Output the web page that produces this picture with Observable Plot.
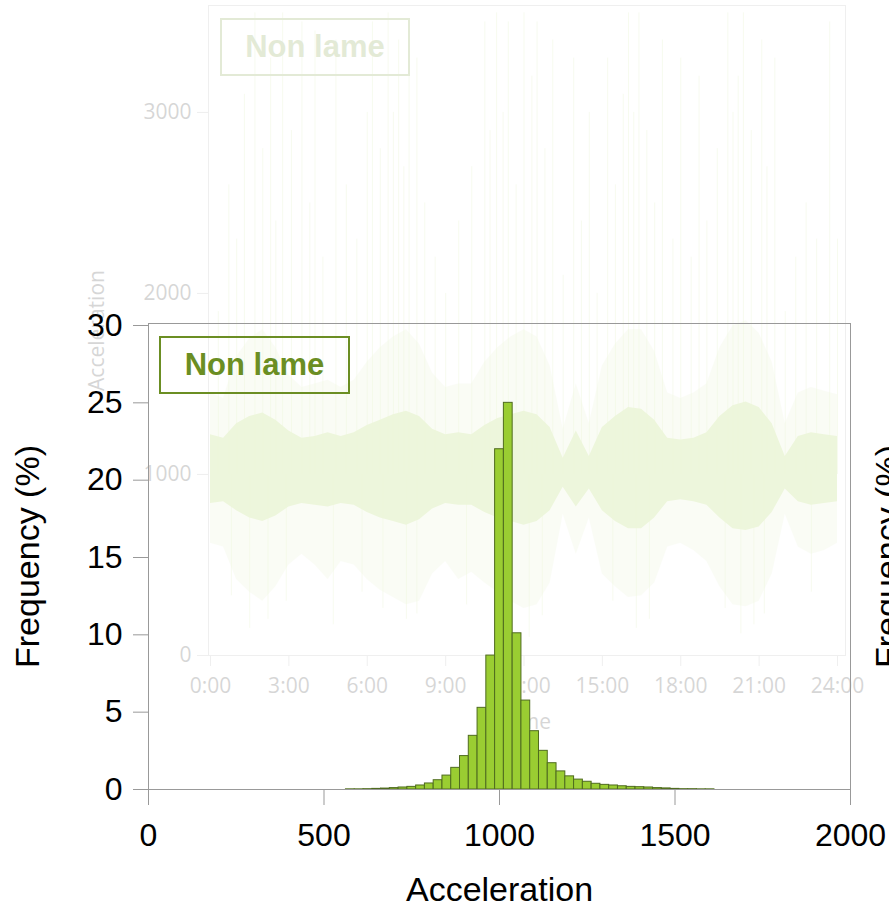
<!DOCTYPE html>
<html><head><meta charset="utf-8">
<script src="https://cdn.jsdelivr.net/npm/d3@7"></script>
<script src="https://cdn.jsdelivr.net/npm/@observablehq/plot@0.6"></script>
<style>
html,body{margin:0;padding:0;overflow:hidden;background:#fff;}
#stage{position:relative;width:889px;height:907px;overflow:hidden;background:#fff;}
#back{position:absolute;left:0;top:0;width:889px;height:907px;opacity:0.18;}
#front{position:absolute;left:0;top:0;width:889px;height:907px;}
#back svg,#front svg{position:absolute;left:0;top:0;}
.box{position:absolute;box-sizing:border-box;border:2px solid #6b8e23;color:#6b8e23;font:bold 31px "Liberation Sans",Arial,sans-serif;display:flex;align-items:center;justify-content:center;}
</style></head><body>
<div id="stage"><div id="back"></div><div id="front"></div></div>
<script>
// ---- histogram (front) ----
const binCenters = [575,600,625,650,675,700,725,750,775,800,825,850,875,900,925,950,975,1000,1025,1050,1075,1100,1125,1150,1175,1200,1225,1250,1275,1300,1325,1350,1375,1400,1425,1450,1475,1500,1525,1550,1575,1600];
const binPct = [0.01,0.01,0.02,0.04,0.06,0.09,0.13,0.17,0.26,0.39,0.6,0.9,1.4,2.16,3.47,5.28,8.66,22.0,25.0,10.1,5.75,3.77,2.5,1.7,1.17,0.85,0.64,0.5,0.37,0.3,0.26,0.21,0.17,0.15,0.13,0.09,0.07,0.04,0.02,0.02,0.01,0.01];
const binWidth = 25;
const freqTicks = [0,5,10,15,20,25,30];
const accTicks = [0,500,1000,1500,2000];

// ---- time series (background), envelopes every half hour ----
const hours = [0,0.5,1,1.5,2,2.5,3,3.5,4,4.5,5,5.5,6,6.5,7,7.5,8,8.5,9,9.5,10,10.5,11,11.5,12,12.5,13,13.5,14,14.5,15,15.5,16,16.5,17,17.5,18,18.5,19,19.5,20,20.5,21,21.5,22,22.5,23,23.5,24];
const coreLo = [840,850,800,760,740,770,820,840,830,820,840,830,790,760,740,720,750,810,840,830,830,790,760,740,720,740,800,930,820,920,800,740,700,700,760,850,860,850,830,760,700,690,710,790,920,850,830,840,850];
const coreHi = [1220,1200,1280,1320,1340,1300,1240,1200,1210,1230,1210,1230,1270,1300,1330,1350,1320,1250,1220,1230,1220,1270,1310,1330,1350,1330,1260,1090,1240,1100,1260,1320,1370,1360,1300,1200,1190,1200,1230,1320,1380,1400,1370,1280,1100,1210,1230,1220,1210];
const outLo = [620,600,420,350,300,380,500,560,500,420,520,500,420,360,320,280,300,450,520,420,460,400,350,300,260,280,400,780,560,760,450,380,320,330,400,600,620,580,520,380,280,270,300,450,780,600,560,580,620];
const outHi = [1450,1420,1650,1750,1800,1700,1550,1480,1500,1520,1480,1520,1620,1700,1760,1800,1720,1560,1480,1500,1500,1620,1700,1760,1800,1760,1600,1250,1500,1280,1600,1720,1800,1800,1680,1450,1420,1450,1500,1700,1820,1850,1780,1620,1280,1450,1480,1460,1440];
const spikeUpT = [0.3,0.7,1.0,1.3,1.7,2.0,2.3,2.5,2.76,3.1,3.5,3.8,4.0,4.3,4.8,5.2,5.6,6.0,6.2,6.5,6.8,7.0,7.2,7.4,7.6,7.9,8.2,8.6,9.0,9.5,10.0,10.5,10.7,10.95,11.2,11.4,11.7,12.0,12.3,12.5,12.8,13.1,13.5,13.9,14.2,14.5,14.8,15.2,15.5,15.8,16.0,16.2,16.4,16.7,17.0,17.3,17.7,18.0,18.4,18.7,19.0,19.4,19.8,20.0,20.2,20.4,20.7,21.1,21.3,21.6,22.0,22.4,22.8,23.2,23.7,24.0];
const spikeUpV = [1900,2600,2300,3100,3550,2800,3300,2400,3550,2900,3500,2500,3450,2200,3400,2600,2300,3000,3500,2800,3550,3000,3400,2700,3500,3300,2500,2200,2000,2400,2700,3500,2900,3550,3000,3500,2600,3550,3200,3500,2800,3400,2100,3300,2400,3000,2000,3300,2600,3100,3550,3000,3550,2900,2500,3400,2300,3300,2200,3200,2400,2800,3550,3000,3200,3550,2900,3400,2700,3300,1900,2200,2500,2300,3500,2300];
const spikeDnT = [0.8,1.5,2.2,2.9,4.7,5.8,6.6,7.5,7.9,9.8,11.3,12.2,12.7,15.4,16.3,16.8,19.7,20.3,20.8,21.2,23.0];
const spikeDnV = [330,150,200,300,170,350,260,200,230,280,250,100,220,300,150,200,260,120,170,230,350];
const timeTicks = [0,3,6,9,12,15,18,21,24];
const accelTicks = [0,1000,2000,3000];
const GREEN = "#9acd32";

const band = hours.map((t,i)=>({t, coreLo:coreLo[i], coreHi:coreHi[i], outLo:outLo[i], outHi:outHi[i]}));
const ups = spikeUpT.map((t,i)=>({t, v:spikeUpV[i]}));
const downs = spikeDnT.map((t,i)=>({t, v:spikeDnV[i]}));
const hist = binCenters.map((c,i)=>({x1:c-binWidth/2, x2:c+binWidth/2, pct:binPct[i]}));
const plain = d => String(d);

const back = Plot.plot({
  width:889, height:907,
  marginLeft:208, marginRight:44, marginTop:5, marginBottom:252,
  x:{domain:[-0.077,24.306]}, y:{domain:[0,3591]},
  style:{background:"transparent", fontFamily:"'Open Sans', sans-serif", overflow:"visible"},
  marks:[
    Plot.areaY(band,{x:"t", y1:"outLo", y2:"outHi", fill:GREEN, fillOpacity:0.25}),
    Plot.ruleX(ups,{x:"t", y1:1000, y2:"v", stroke:GREEN, strokeOpacity:0.4}),
    Plot.ruleX(downs,{x:"t", y1:1000, y2:"v", stroke:GREEN, strokeOpacity:0.4}),
    Plot.areaY(band,{x:"t", y1:"coreLo", y2:"coreHi", fill:GREEN, fillOpacity:0.9}),
    Plot.frame({stroke:"#aaa"}),
    Plot.axisX({ticks:timeTicks, tickFormat:d=>d+":00", tickSize:11, tickPadding:12, fontSize:21, stroke:"#aaa", fill:"#222", label:null}),
    Plot.axisY({ticks:accelTicks, tickFormat:plain, tickSize:11, tickPadding:6, fontSize:21, stroke:"#aaa", fill:"#222", label:null}),
    Plot.text(["Acceleration"],{frameAnchor:"left", dx:-111, rotate:-90, fontSize:21, fill:"#222", textAnchor:"middle", lineAnchor:"middle"}),
    Plot.text(["Time"],{frameAnchor:"bottom", dy:67, fontSize:21, fill:"#222", textAnchor:"middle", lineAnchor:"middle"})
  ]
});
document.getElementById("back").appendChild(back);
const bbox = document.createElement("div");
bbox.className = "box"; bbox.textContent = "Non lame";
Object.assign(bbox.style,{left:"220px", top:"18px", width:"190px", height:"58px"});
document.getElementById("back").appendChild(bbox);

const front = Plot.plot({
  width:889, height:907,
  marginLeft:148, marginRight:39, marginTop:323, marginBottom:118,
  x:{domain:[0,2000]}, y:{domain:[0,30.13]},
  style:{background:"transparent", fontFamily:"'Liberation Sans', Arial, sans-serif", overflow:"visible", color:"#000"},
  marks:[
    Plot.rectY(hist,{x1:"x1", x2:"x2", y:"pct", fill:GREEN, stroke:"#4f6b1f", strokeWidth:1, inset:0}),
    Plot.frame({stroke:"#999"}),
    Plot.axisX({ticks:accTicks, tickFormat:plain, tickSize:16, tickPadding:18, fontSize:32, stroke:"#999", fill:"#000", label:null}),
    Plot.axisY({ticks:freqTicks, tickFormat:plain, tickSize:15, tickPadding:11, fontSize:32, stroke:"#999", fill:"#000", label:null}),
    Plot.text(["Frequency (%)"],{frameAnchor:"left", dx:-120, rotate:-90, fontSize:34, fill:"#000", textAnchor:"middle", lineAnchor:"middle"}),
    Plot.text(["Frequency (%)"],{frameAnchor:"right", dx:38, rotate:-90, fontSize:34, fill:"#000", textAnchor:"middle", lineAnchor:"middle"}),
    Plot.text(["Acceleration"],{frameAnchor:"bottom", dy:101, fontSize:34, fill:"#000", textAnchor:"middle", lineAnchor:"middle"})
  ]
});
document.getElementById("front").appendChild(front);
const fbox = document.createElement("div");
fbox.className = "box"; fbox.textContent = "Non lame";
Object.assign(fbox.style,{left:"159px", top:"336px", width:"191px", height:"58px"});
document.getElementById("front").appendChild(fbox);
</script>
</body></html>
